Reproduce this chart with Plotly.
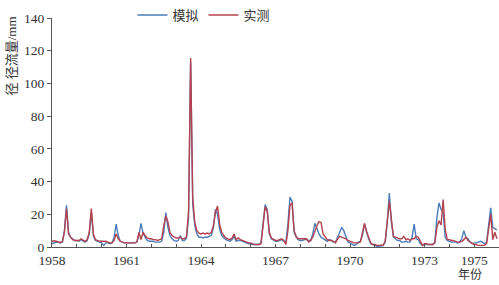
import plotly.graph_objects as go

start_year = 1958
# monthly runoff (mm), Jan..Dec for each year 1958-1975
simulated = [
    2.0, 2.5, 3.0, 2.8, 2.5, 3.0, 10, 25.5, 9, 6, 5, 4,          # 1958
    4, 3.5, 4.5, 3.5, 3, 4, 8, 21, 7, 4, 3.5, 3,                 # 1959
    2.5, 1.0, 2.5, 2.5, 2, 2.5, 6, 14, 7, 3.5, 3, 2.5,           # 1960
    2.5, 2.5, 2.5, 2.5, 2.5, 3, 7, 14.5, 8.5, 6, 4, 3.5,         # 1961
    3.5, 3.5, 3, 3, 3, 3.5, 9, 21, 12, 7, 5, 4,                  # 1962
    3.5, 4, 7, 4, 4, 5.5, 18, 113, 26, 13, 8, 6,                 # 1963
    6, 5.5, 6, 6, 6.5, 7, 12, 23, 20, 11, 7, 5.5,                # 1964
    4.5, 4, 3.5, 4.5, 6.5, 3.5, 4, 4, 3.5, 3, 2.5, 2,            # 1965
    2, 1.5, 1.5, 1.5, 1.5, 2.5, 16, 26, 23, 8, 5, 4,             # 1966
    3.5, 3.5, 4, 4.5, 3.5, 2.5, 14, 30.5, 28, 9, 6, 4.5,         # 1967
    4, 4, 4.5, 4.5, 4, 4, 8, 14.5, 11.5, 8, 6, 5,                # 1968
    4, 3.5, 4.5, 4, 3, 3, 6, 9, 12, 10, 7, 3,                    # 1969
    2.5, 1.5, 1, 1.5, 3, 3.5, 7, 14, 9, 5, 2, 1.5,               # 1970
    1, 0.5, 0.5, 0.5, 0.8, 3, 15, 33, 15, 6, 5, 4,               # 1971
    4, 3, 3, 3.5, 3, 3, 6, 14, 5, 4.5, 2, 1,                     # 1972
    1.5, 1.5, 1.5, 1.5, 1.5, 3, 18, 27, 23, 21.5, 6, 4,          # 1973
    3.5, 3, 3, 3, 2.5, 3, 5, 10, 6, 5, 3, 2,                     # 1974
    2.5, 2.5, 3, 3.5, 3, 2, 3, 12, 24, 12, 11, 10.5,             # 1975
]
observed = [
    3.5, 3.8, 3.5, 3.0, 2.8, 3.2, 9, 23.5, 8, 6, 4.5, 4,         # 1958
    4, 4, 5, 4, 3.5, 4.5, 9, 23.5, 8, 4.5, 4, 3.5,               # 1959
    3.5, 3.5, 3.5, 3, 2.5, 2.5, 4, 8, 5, 3.5, 3, 2.5,            # 1960
    2.5, 2.5, 2.5, 2.5, 2.5, 3, 9, 4.5, 9, 7, 5.5, 5,            # 1961
    5, 4.5, 4.5, 4, 4.5, 5, 13, 19, 15.5, 9, 7, 6,               # 1962
    5.5, 5.5, 6, 5, 5, 6.5, 22, 115.5, 30, 15, 10, 8.5,          # 1963
    8, 8.5, 8, 8.5, 8, 9, 13, 21.5, 25, 14, 9, 7,                # 1964
    5.5, 5, 4.5, 5.5, 8, 4.5, 5.5, 4.5, 4, 3.5, 3, 2.5,          # 1965
    2.5, 2, 1.5, 1.5, 1.5, 2, 14, 24.5, 22, 9, 5.5, 4.5,         # 1966
    4, 4, 4.5, 5, 4, 1.5, 10, 25.5, 27, 10, 6.5, 5,              # 1967
    5, 5, 5, 5, 3, 4, 6, 10, 13, 15.5, 15, 8,                    # 1968
    6, 4.5, 4, 4, 3.5, 2.5, 5, 6.5, 6, 5.5, 5, 4,                # 1969
    3.5, 3, 2.5, 2.5, 2.5, 3, 8, 14.5, 9.5, 5.5, 2.5, 1.5,       # 1970
    1.5, 1, 1, 1, 1.2, 3.5, 15, 28, 17, 6.5, 6, 5.5,             # 1971
    5, 5, 6.5, 4.5, 5, 4, 5, 5, 6.5, 6, 3, 1,                    # 1972
    2, 2, 1.5, 1.5, 1.5, 2.5, 12, 16, 13.5, 29, 11, 4.5,         # 1973
    4.5, 4, 4, 3.5, 3, 3, 3.5, 4.5, 6, 4, 3, 2.5,                # 1974
    1.5, 1.5, 1, 1, 1, 1, 2, 10, 20, 4.5, 9, 5,                  # 1975
]
series_names = ["模拟", "实测"]
series_colors = ["#4d7db9", "#b5434f"]
year_ticks = list(range(1958, 1977))
labelled_years = [1958, 1961, 1964, 1967, 1970, 1973, 1975]
y_ticks = [0, 20, 40, 60, 80, 100, 120, 140]

x = [start_year + i / 12 for i in range(len(simulated))]

serif = "'Liberation Serif', 'Times New Roman', 'DejaVu Serif', 'Noto Sans CJK SC', serif"
fig = go.Figure()
for name, vals, col in zip(series_names, [simulated, observed], series_colors):
    fig.add_trace(go.Scatter(x=x, y=vals, mode="lines", name=name,
                             line=dict(color=col, width=1.4)))

fig.update_layout(
    width=499, height=285,
    margin=dict(l=52, r=0, t=5, b=38),
    paper_bgcolor="white", plot_bgcolor="white",
    font=dict(family=serif, size=13, color="#333"),
    showlegend=True,
    legend=dict(orientation="h", x=0.18, y=1.015, xanchor="left", yanchor="middle",
                font=dict(size=13, color="#333", family=serif), bgcolor="rgba(0,0,0,0)",
                itemwidth=30, tracegroupgap=0),
)
fig.update_xaxes(
    range=[1958, 1976], showgrid=False, zeroline=False,
    showline=True, linecolor="#555", linewidth=1,
    tickmode="array", tickvals=year_ticks,
    ticktext=[str(yv) if yv in labelled_years else "" for yv in year_ticks],
    ticks="inside", ticklen=3, tickcolor="#555", ticklabelstandoff=1,
    tickfont=dict(size=13.5, color="#333", family=serif),
)
fig.update_yaxes(
    range=[0, 140], showgrid=False, zeroline=False,
    showline=True, linecolor="#555", linewidth=1,
    tickmode="array", tickvals=y_ticks,
    ticks="outside", ticklen=4, tickcolor="#555",
    tickfont=dict(size=13.5, color="#333", family=serif),
)
fig.add_annotation(text="径 径流量/mm", textangle=-90, xref="paper", yref="paper",
                   x=-0.09, y=0.835, xanchor="center", yanchor="middle",
                   showarrow=False, font=dict(size=13, color="#333", family=serif))
fig.add_annotation(text="年份", xref="paper", yref="paper",
                   x=0.935, y=-0.157, xanchor="center", yanchor="bottom",
                   borderpad=0, showarrow=False,
                   font=dict(size=12, color="#333", family=serif))

fig.write_html("out.html")
